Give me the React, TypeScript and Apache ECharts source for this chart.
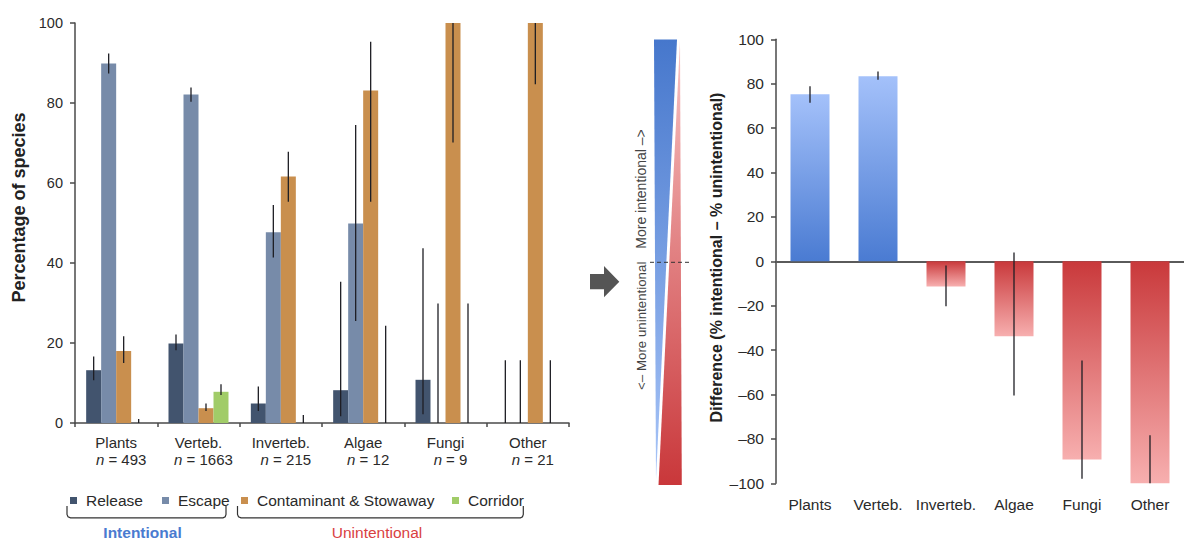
import React, { useEffect, useRef } from "react";
import * as echarts from "echarts";

// ---------- data ----------
const categories = ["Plants", "Verteb.", "Inverteb.", "Algae", "Fungi", "Other"];
const sampleSizes = [493, 1663, 215, 12, 9, 21];
const groupNames = ["Release", "Escape", "Contaminant & Stowaway", "Corridor"];

const releaseVals = [13.2, 19.9, 4.9, 8.2, 10.8, 0];
const releaseLow = [10.7, 18.2, 3.0, 1.7, 2.2, 0];
const releaseHigh = [16.6, 22.1, 9.1, 35.3, 43.7, 15.7];

const escapeVals = [89.9, 82.1, 47.7, 49.9, 0, 0];
const escapeLow = [87.4, 80.3, 41.4, 25.5, 0, 0];
const escapeHigh = [92.4, 83.9, 54.5, 74.5, 29.9, 15.7];

const contamVals = [18.0, 3.7, 61.6, 83.1, 100, 100];
const contamLow = [15.0, 3.0, 55.3, 55.3, 70.1, 84.7];
const contamHigh = [21.7, 4.9, 67.8, 95.3, 100, 100];

const corridorVals = [0, 7.8, 0, 0, 0, 0];
const corridorLow = [0, 7.0, 0, 0, 0, 0];
const corridorHigh = [1.0, 9.7, 2.0, 24.3, 29.9, 15.7];

const diffVals = [75.2, 83.4, -11.3, -33.8, -89.3, -100];
const diffLow = [71.4, 81.8, -20.3, -60.5, -98, -100];
const diffHigh = [78.8, 85.5, -1.9, 4.0, -44.7, -78.4];

const leftTicks = { min: 0, max: 100, interval: 20 };
const rightTicks = { min: -100, max: 100, interval: 20 };

// ---------- styles ----------
const FONT = '"Liberation Sans", Arial, Helvetica, sans-serif';
const groupColors = ["#42546e", "#778ba9", "#c98f4e", "#a1cc68"];
const LEFT_BAR_W = 15;
const RIGHT_BAR_W = 39;
const AXIS_COLOR = "#4a4a4a";
const TEXT_COLOR = "#2a2a2a";

export default function App() {
  const ref = useRef<HTMLDivElement>(null);

  useEffect(() => {
    if (!ref.current) return;
    const chart = echarts.init(ref.current, null, { renderer: "svg" });

    const groups = [
      { vals: releaseVals, lo: releaseLow, hi: releaseHigh },
      { vals: escapeVals, lo: escapeLow, hi: escapeHigh },
      { vals: contamVals, lo: contamLow, hi: contamHigh },
      { vals: corridorVals, lo: corridorLow, hi: corridorHigh },
    ];

    const leftErrData: number[][] = [];
    groups.forEach((g, k) => {
      categories.forEach((_, i) => {
        leftErrData.push([i, k, g.lo[i], g.hi[i]]);
      });
    });
    const rightErrData = categories.map((_, i) => [i, diffLow[i], diffHigh[i]]);

    const posGrad = {
      type: "linear", x: 0, y: 0, x2: 0, y2: 1,
      colorStops: [
        { offset: 0, color: "#a4c1fa" },
        { offset: 1, color: "#4a7bd2" },
      ],
    };
    const negGrad = {
      type: "linear", x: 0, y: 0, x2: 0, y2: 1,
      colorStops: [
        { offset: 0, color: "#c9393b" },
        { offset: 1, color: "#f7afaf" },
      ],
    };

    const legendCommon = {
      orient: "horizontal",
      itemWidth: 7,
      itemHeight: 7,
      icon: "rect",
      padding: 0,
      selectedMode: false,
      top: 492.5,
      textStyle: { fontSize: 15.5, color: TEXT_COLOR, fontFamily: FONT, padding: [0, 0, 0, 4] },
    };
    const legendLefts = [70, 162, 241, 452];

    const yLabelFmt = (v: number) => (v < 0 ? "\u2013" + Math.abs(v) : String(v));

    const option: any = {
      animation: false,
      textStyle: { fontFamily: FONT },
      legend: groupNames.map((n, k) => ({ ...legendCommon, data: [n], left: legendLefts[k] })),
      grid: [
        { left: 75, top: 23, width: 494, bottom: 118, containLabel: false },
        { left: 776, top: 39.3, right: -12.6, bottom: 57.7, containLabel: false },
      ],
      xAxis: [
        {
          type: "category",
          gridIndex: 0,
          data: categories,
          axisLine: { lineStyle: { color: AXIS_COLOR, width: 1.5 } },
          axisTick: { show: true, length: 4, lineStyle: { color: AXIS_COLOR, width: 1.5 } },
          axisLabel: {
            interval: 0,
            margin: 11,
            lineHeight: 17,
            color: TEXT_COLOR,
            fontSize: 15,
            fontFamily: FONT,
            formatter: (v: string, i: number) => `${v}\n{n|n}{t| = ${sampleSizes[i]}}`,
            rich: {
              n: { fontStyle: "italic", fontSize: 15, fontFamily: FONT, color: TEXT_COLOR, padding: [0, 0, 0, 10], lineHeight: 17 },
              t: { fontSize: 15, fontFamily: FONT, color: TEXT_COLOR, lineHeight: 17 },
            },
          },
        },
        {
          type: "category",
          gridIndex: 1,
          data: categories,
          position: "bottom",
          axisLine: { show: false, onZero: false },
          axisTick: { show: false },
          axisLabel: { interval: 0, margin: 13, color: TEXT_COLOR, fontSize: 15.5, fontFamily: FONT },
        },
        {
          type: "category",
          gridIndex: 1,
          data: categories,
          axisLine: { show: true, onZero: true, lineStyle: { color: "#5a5a5a", width: 2 } },
          axisTick: { show: false },
          axisLabel: { show: false },
        },
      ],
      yAxis: [
        {
          type: "value",
          gridIndex: 0,
          ...leftTicks,
          axisLine: { show: true, lineStyle: { color: AXIS_COLOR, width: 1.5 } },
          axisTick: { show: true, length: 5, lineStyle: { color: AXIS_COLOR, width: 1.5 } },
          splitLine: { show: false },
          axisLabel: { margin: 12, color: TEXT_COLOR, fontSize: 14.5, fontFamily: FONT },
        },
        {
          type: "value",
          gridIndex: 1,
          ...rightTicks,
          axisLine: { show: true, onZero: false, lineStyle: { color: AXIS_COLOR, width: 1.5 } },
          axisTick: { show: true, length: 5, lineStyle: { color: AXIS_COLOR, width: 1.5 } },
          splitLine: { show: false },
          axisLabel: { margin: 12, color: TEXT_COLOR, fontSize: 15.5, fontFamily: FONT, formatter: yLabelFmt },
        },
      ],
      series: [
        ...groups.map((g, k) => ({
          type: "bar",
          name: groupNames[k],
          xAxisIndex: 0,
          yAxisIndex: 0,
          data: g.vals,
          barWidth: LEFT_BAR_W,
          barGap: "0%",
          itemStyle: { color: groupColors[k] },
        })),
        {
          type: "custom",
          name: "leftErrors",
          xAxisIndex: 0,
          yAxisIndex: 0,
          z: 5,
          encode: { x: 0, y: [2, 3] },
          data: leftErrData,
          renderItem: (params: any, api: any) => {
            const cat = api.value(0);
            const k = api.value(1);
            const lo = api.value(2);
            const hi = api.value(3);
            if (lo === hi) return null;
            const p1 = api.coord([cat, lo]);
            const p2 = api.coord([cat, hi]);
            const x = p1[0] + (k - 1.5) * LEFT_BAR_W;
            return {
              type: "line",
              shape: { x1: x, y1: p1[1], x2: x, y2: p2[1] },
              style: { stroke: "#1e1e24", lineWidth: 1.3 },
            };
          },
        },
        {
          type: "bar",
          name: "Difference",
          xAxisIndex: 1,
          yAxisIndex: 1,
          barWidth: RIGHT_BAR_W,
          data: diffVals.map((v) => ({ value: v, itemStyle: { color: v >= 0 ? posGrad : negGrad } })),
        },
        {
          type: "custom",
          name: "rightErrors",
          xAxisIndex: 1,
          yAxisIndex: 1,
          z: 5,
          encode: { x: 0, y: [1, 2] },
          data: rightErrData,
          renderItem: (params: any, api: any) => {
            const cat = api.value(0);
            const p1 = api.coord([cat, api.value(1)]);
            const p2 = api.coord([cat, api.value(2)]);
            return {
              type: "line",
              shape: { x1: p1[0], y1: p1[1], x2: p1[0], y2: p2[1] },
              style: { stroke: "#1e1e24", lineWidth: 1.3 },
            };
          },
        },
      ],
      graphic: [
        {
          type: "text",
          x: 19,
          y: 207.5,
          rotation: Math.PI / 2,
          style: {
            text: "Percentage of species",
            font: `bold 18px ${FONT}`,
            fill: "#222",
            textAlign: "center",
            textVerticalAlign: "middle",
          },
        },
        {
          type: "text",
          x: 716,
          y: 257.5,
          rotation: Math.PI / 2,
          style: {
            text: "Difference (% intentional \u2013 % unintentional)",
            font: `bold 16px ${FONT}`,
            fill: "#222",
            textAlign: "center",
            textVerticalAlign: "middle",
          },
        },
        {
          type: "polyline",
          shape: {
            points: [[67, 506], [67, 514.5], [68, 516.8], [70.5, 517.8], [223, 517.8], [225.2, 516.8], [226, 514.5], [226, 506]],
          },
          style: { stroke: "#333", lineWidth: 1.2, fill: null },
        },
        {
          type: "polyline",
          shape: {
            points: [[237.5, 506], [237.5, 514.5], [238.5, 516.8], [241, 517.8], [520.5, 517.8], [522.5, 516.8], [523.3, 514.5], [523.3, 506]],
          },
          style: { stroke: "#333", lineWidth: 1.2, fill: null },
        },
        {
          type: "text",
          x: 142.5,
          y: 532.5,
          style: {
            text: "Intentional",
            font: `bold 15.5px ${FONT}`,
            fill: "#4a7bd0",
            textAlign: "center",
            textVerticalAlign: "middle",
          },
        },
        {
          type: "text",
          x: 377,
          y: 532.5,
          style: {
            text: "Unintentional",
            font: `15.5px ${FONT}`,
            fill: "#d9403f",
            textAlign: "center",
            textVerticalAlign: "middle",
          },
        },
        {
          type: "polygon",
          shape: {
            points: [[590, 274], [604, 274], [604, 266], [619.3, 281.7], [604, 297.3], [604, 289.3], [590, 289.3]],
          },
          style: { fill: "#555" },
        },
        {
          type: "polygon",
          shape: { points: [[654, 39.5], [677, 39.5], [656, 479]] },
          style: {
            fill: new echarts.graphic.LinearGradient(0, 0, 0, 1, [
              { offset: 0, color: "#4677cc" },
              { offset: 1, color: "#a8c5f8" },
            ]),
          },
        },
        {
          type: "polygon",
          shape: { points: [[680, 40.5], [681.8, 485], [658.5, 485]] },
          style: {
            fill: new echarts.graphic.LinearGradient(0, 0, 0, 1, [
              { offset: 0, color: "#f8c4c4" },
              { offset: 1, color: "#c9373a" },
            ]),
          },
        },
        {
          type: "line",
          shape: { x1: 650, y1: 262.3, x2: 692, y2: 262.3 },
          style: { stroke: "#333", lineWidth: 1, lineDash: [4, 3] },
        },
        {
          type: "text",
          x: 641,
          y: 189,
          rotation: Math.PI / 2,
          style: {
            text: "More intentional \u2013>",
            font: `14px ${FONT}`,
            fill: "#444",
            textAlign: "center",
            textVerticalAlign: "middle",
          },
        },
        {
          type: "text",
          x: 641,
          y: 325.8,
          rotation: Math.PI / 2,
          style: {
            text: "<\u2013 More unintentional",
            font: `13.3px ${FONT}`,
            fill: "#444",
            textAlign: "center",
            textVerticalAlign: "middle",
          },
        },
      ],
    };

    chart.setOption(option);
    return () => chart.dispose();
  }, []);

  return (
    <div
      ref={ref}
      style={{ position: "fixed", left: 0, top: 0, width: 1184, height: 541, background: "#fff" }}
    />
  );
}
